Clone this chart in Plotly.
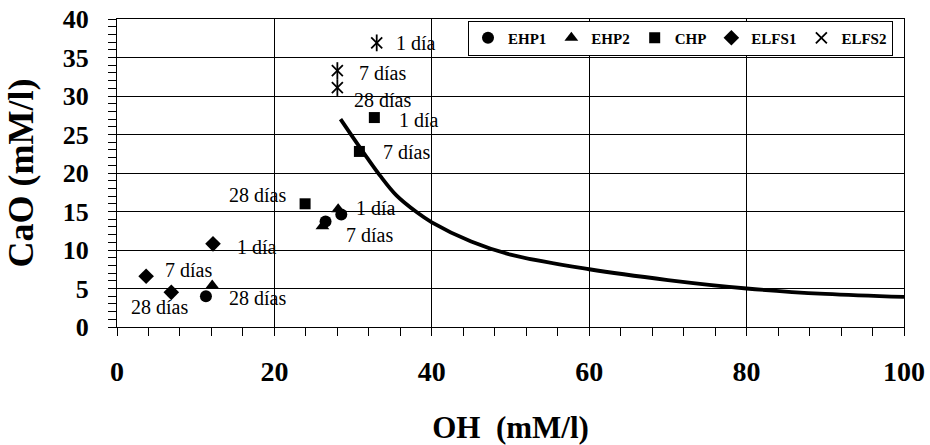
import plotly.graph_objects as go

# Data (1 día, 7 días, 28 días)
ehp1_x = [28.5, 26.5, 11.3]
ehp1_y = [14.6, 13.7, 4.0]
ehp2_x = [28.1, 26.1, 12.1]
ehp2_y = [15.3, 13.1, 5.4]
chp_x = [32.7, 30.8, 23.9]
chp_y = [27.2, 22.8, 16.0]
elfs1_x = [12.2, 3.7, 6.9]
elfs1_y = [10.8, 6.6, 4.5]
elfs2_x = [33.0, 28.0, 28.0]
elfs2_y = [36.9, 33.3, 31.1]

# Solubility curve
curve_x = [28.4, 30.0, 31.7, 33.4, 35.5, 38.1, 40, 45, 50, 60, 70, 80, 90, 100]
curve_y = [27.0, 24.6, 22.1, 19.7, 17.1, 14.9, 13.6, 11.1, 9.4, 7.5, 6.1, 5.0, 4.3, 3.9]

ages = ["1 día", "7 días", "28 días"]

FONT = "Liberation Serif, Times New Roman, serif"

fig = go.Figure()
fig.add_trace(go.Scatter(x=curve_x, y=curve_y, mode="lines", line=dict(color="black", width=3.8, shape="spline"),
                         showlegend=False, hoverinfo="skip"))

series = [
    ("EHP1", ehp1_x, ehp1_y, "circle", 12),
    ("EHP2", ehp2_x, ehp2_y, "triangle-up", 12),
    ("CHP", chp_x, chp_y, "square", 11),
    ("ELFS1", elfs1_x, elfs1_y, "diamond", 12),
]
for name, xs, ys, sym, sz in series:
    fig.add_trace(go.Scatter(x=xs, y=ys, mode="markers", name=name,
                             marker=dict(symbol=sym, size=sz, color="black")))
fig.add_trace(go.Scatter(x=elfs2_x, y=elfs2_y, mode="markers", name="ELFS2", legendgroup="elfs2",
                         marker=dict(symbol="x-thin-open", size=11, color="black", line=dict(width=1.8, color="black"))))
fig.add_trace(go.Scatter(x=elfs2_x, y=elfs2_y, mode="markers", name="ELFS2", legendgroup="elfs2", showlegend=False,
                         marker=dict(symbol="line-ns-open", size=12, color="black", line=dict(width=1.8, color="black"))))

data = {"EHP1": (ehp1_x, ehp1_y), "EHP2": (ehp2_x, ehp2_y), "CHP": (chp_x, chp_y),
        "ELFS1": (elfs1_x, elfs1_y), "ELFS2": (elfs2_x, elfs2_y)}
labels = [
    ("ELFS2", 0, "left", 17, 0),
    ("ELFS2", 1, "left", 20, -2),
    ("ELFS2", 2, "left", 15, -12),
    ("CHP", 0, "left", 23, -2),
    ("CHP", 1, "left", 22, -1),
    ("CHP", 2, "right", -17, 9),
    ("EHP2", 0, "left", 16, 1),
    ("EHP1", 1, "left", 18, -13),
    ("EHP1", 2, "left", 21, -2),
    ("ELFS1", 0, "left", 22, -3),
    ("ELFS1", 1, "left", 17, 6),
    ("ELFS1", 2, "right", 19, -15),
]
for key, i, anc, xs_, ys_ in labels:
    xs, ys = data[key]
    fig.add_annotation(x=xs[i], y=ys[i], text=ages[i], showarrow=False, xanchor=anc, yanchor="middle",
                       xshift=xs_, yshift=ys_, font=dict(family=FONT, size=20, color="black"))

fig.update_layout(
    width=930, height=445,
    margin=dict(l=117, r=26, t=19, b=118),
    paper_bgcolor="white", plot_bgcolor="white",
    font=dict(family=FONT, color="black"),
    legend=dict(orientation="h", x=0.446, y=0.995, xanchor="left", yanchor="top",
                bgcolor="white", bordercolor="black", borderwidth=1,
                font=dict(family=FONT, size=15, color="black", weight="bold"),
                itemwidth=30, tracegroupgap=0),
)
fig.update_xaxes(range=[0, 100], dtick=20, tick0=0, showgrid=True, gridcolor="black", gridwidth=1,
                 showline=True, linecolor="black", linewidth=1, mirror=True, zeroline=False, automargin=False,
                 ticks="outside", ticklen=8, tickcolor="black",
                 minor=dict(dtick=4, ticks="outside", ticklen=8, tickcolor="black", showgrid=False),
                 tickfont=dict(family=FONT, size=28, weight="bold", color="black"), ticklabelstandoff=11,
                 title=dict(text="OH  (mM/l)", font=dict(family=FONT, size=31, weight="bold", color="black"), standoff=38))
fig.update_yaxes(range=[0, 40], dtick=5, tick0=0, showgrid=True, gridcolor="black", gridwidth=1,
                 showline=True, linecolor="black", linewidth=1, mirror=True, zeroline=False, automargin=False,
                 ticks="outside", ticklen=8, tickcolor="black",
                 minor=dict(dtick=1, ticks="outside", ticklen=8, tickcolor="black", showgrid=False),
                 tickfont=dict(family=FONT, size=26, weight="bold", color="black"), ticklabelstandoff=14,
                 title=dict(text="CaO (mM/l)", font=dict(family=FONT, size=36, weight="bold", color="black"), standoff=18))

fig.write_html("out.html")
